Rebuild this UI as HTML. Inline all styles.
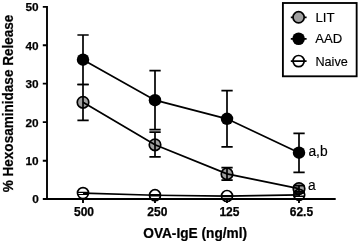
<!DOCTYPE html>
<html><head><meta charset="utf-8">
<style>
html,body{margin:0;padding:0;background:#fff;}
body{width:358px;height:244px;overflow:hidden;}
svg{display:block;will-change:transform;font-family:"Liberation Sans",sans-serif;}
.b{font-weight:bold;stroke:#000;stroke-width:0.25px;}
</style></head><body>
<svg width="358" height="244" viewBox="0 0 358 244">
<!-- LIT symbols -->
<g stroke="#000" stroke-width="1.7" fill="#a0a0a0">
<circle cx="83" cy="102.3" r="5.75"/><circle cx="155" cy="144.8" r="5.75"/><circle cx="227" cy="173.9" r="5.75"/><circle cx="299" cy="188.7" r="5.75"/>
</g>
<!-- LIT error bars -->
<g stroke="#000" stroke-width="1.7" fill="none">
<path d="M83 84.5V120.3M77.4 84.5H88.7M77.4 120.3H88.7"/>
<path d="M155 132.2V156.9M149.4 132.2H160.7M149.4 156.9H160.7"/>
<path d="M227 167.7V180.2M221.4 167.7H232.7M221.4 180.2H232.7"/>
<path d="M299 185.7V191.8M293.4 185.7H304.7M293.4 191.8H304.7"/>
</g>
<polyline points="83,102.3 155,144.8 227,173.9 299,188.7" stroke="#000" stroke-width="1.75" fill="none"/>
<!-- AAD -->
<g stroke="#000" stroke-width="1.7" fill="none">
<path d="M83 35V84.5M77.4 35H88.7M77.4 84.5H88.7"/>
<path d="M155 70.6V129.6M149.4 70.6H160.7M149.4 129.6H160.7"/>
<path d="M227 90.7V146.9M221.4 90.7H232.7M221.4 146.9H232.7"/>
<path d="M299 133.4V172.3M293.4 133.4H304.7M293.4 172.3H304.7"/>
</g>
<g fill="#000">
<circle cx="83" cy="59.7" r="6.25"/><circle cx="155" cy="100.2" r="6.25"/><circle cx="227" cy="118.8" r="6.25"/><circle cx="299" cy="152.7" r="6.25"/>
</g>
<polyline points="83,59.7 155,100.2 227,118.8 299,152.7" stroke="#000" stroke-width="1.75" fill="none"/>
<!-- Naive -->
<g stroke="#000" stroke-width="1.7" fill="none">
<circle cx="83" cy="193.1" r="5.5"/><circle cx="155" cy="195.2" r="5.5"/><circle cx="227" cy="196" r="5.5"/><circle cx="299.2" cy="194.8" r="5.5"/>
</g>
<g stroke="#000" stroke-width="1.2" fill="none">
<path d="M77.4 192.3H88.7M77.4 194.5H88.7"/>
<path d="M149.4 194.6H160.7M149.4 195.9H160.7"/>
<path d="M221.4 195.5H232.7M221.4 196.7H232.7"/>
<path d="M299.2 193V196.3M293.6 193H304.9M293.6 196.3H304.9" stroke-width="1.6"/>
</g>
<polyline points="83,193.2 155,195.25 227,196.1 299.2,194.8" stroke="#000" stroke-width="1.75" fill="none"/>
<!-- axes -->
<g stroke="#000" stroke-width="1.9" fill="none">
<path d="M47 5.9V199.9"/>
<path d="M42.8 198.95H335.7"/>
<path d="M42.8 6.85H47M42.8 45.2H47M42.8 83.65H47M42.8 122.15H47M42.8 160.7H47"/>
<path d="M83 198.9V203M155 198.9V203M227 198.9V203M299 198.9V203"/>
</g>
<g opacity="0.999">
<!-- tick labels -->
<g class="b" font-size="11.8" text-anchor="end">
<text x="38.7" y="11.4">50</text><text x="38.7" y="50">40</text><text x="38.7" y="88.3">30</text><text x="38.7" y="126.7">20</text><text x="38.7" y="165.1">10</text><text x="38.7" y="202.9">0</text>
</g>
<g class="b" font-size="12" text-anchor="middle">
<text x="84" y="216.45">500</text><text x="157.3" y="216.45">250</text><text x="229.4" y="216.45">125</text><text x="301.4" y="216.45">62.5</text>
</g>
<text class="b" font-size="14.3" text-anchor="middle" transform="translate(195.15,238.4) scale(0.957,1)">OVA-IgE (ng/ml)</text>
<text class="b" font-size="14.3" text-anchor="middle" transform="translate(12.5,103.45) rotate(-90) scale(0.948,1)">% Hexosaminidase Release</text>
<!-- annotations -->
<text font-size="13.8" x="308.4" y="155.5" stroke="#000" stroke-width="0.15">a,b</text>
<text font-size="13.8" x="308" y="190.4" stroke="#000" stroke-width="0.15">a</text>
</g>
<!-- legend -->
<rect x="282.9" y="3" width="73.75" height="73.3" fill="#fff" stroke="#000" stroke-width="1.85"/>
<g stroke="#000" stroke-width="1.75"><path d="M290.8 17.3H306.6M290.8 38.8H306.6"/></g>
<circle cx="298.6" cy="17.3" r="5.6" fill="#a0a0a0" stroke="#000" stroke-width="1.7"/>
<circle cx="298.6" cy="38.8" r="6.3" fill="#000"/>
<circle cx="298.6" cy="61.1" r="5.6" fill="#fff" stroke="#000" stroke-width="1.7"/>
<path d="M290.8 61.1H306.6" stroke="#000" stroke-width="1.75"/>
<g font-size="13.6" stroke="#000" stroke-width="0.15"><text transform="translate(315.4,21.8) scale(0.98,1)">LIT</text><text transform="translate(315.3,43.3) scale(0.965,1)">AAD</text><text transform="translate(315.4,65.8) scale(0.932,1)">Naive</text></g>
</svg>
</body></html>
